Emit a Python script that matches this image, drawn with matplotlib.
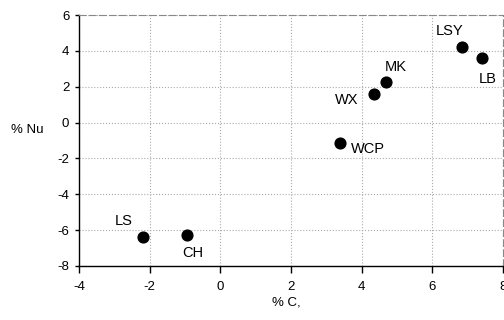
import matplotlib
matplotlib.use("Agg")
import matplotlib.pyplot as plt

labels = ["LSY", "LB", "MK", "WX", "WCP", "LS", "CH"]
x_vals = [6.83, 7.41, 4.70, 4.34, 3.38, -2.19, -0.93]
y_vals = [4.22, 3.62, 2.27, 1.61, -1.15, -6.37, -6.26]
# label offsets in pixels (dx, dy) relative to the point
offsets = [(-12, 16), (6, -21), (9, 15), (-27, -6), (28, -6), (-19, 16), (5, -18)]
x_ticks = [-4, -2, 0, 2, 4, 6, 8]
y_ticks = [-8, -6, -4, -2, 0, 2, 4, 6]

plt.rcParams['font.family'] = ['Liberation Sans', 'DejaVu Sans']
plt.rcParams['axes.unicode_minus'] = False

fig = plt.figure(figsize=(5.04, 3.2), dpi=100)
ax = fig.add_axes([79/504, 1-266/320, 424/504, 251/320])

ax.scatter(x_vals, y_vals, s=60, color='black', zorder=3)
for lab, x, y, (dx, dy) in zip(labels, x_vals, y_vals, offsets):
    ax.annotate(lab, (x, y), xytext=(dx, dy), textcoords='offset pixels',
                ha='center', va='center', fontsize=10.5, color='black')

ax.set_xlim(-4, 8)
ax.set_ylim(-8, 6)
ax.set_xticks(x_ticks)
ax.set_yticks(y_ticks)
ax.tick_params(axis='x', direction='out', length=5, width=1, labelsize=9.5, pad=6)
ax.tick_params(axis='y', direction='out', length=3, width=1, labelsize=9.5, pad=4)
ax.grid(True, linestyle=':', color='#aaaaaa', linewidth=0.8)
ax.set_axisbelow(True)

for side in ['left', 'bottom']:
    ax.spines[side].set_color('black')
    ax.spines[side].set_linewidth(1.0)
for side in ['top', 'right']:
    ax.spines[side].set_color('#888888')
    ax.spines[side].set_linewidth(0.8)
    ax.spines[side].set_linestyle((0, (6, 3)))

ax.set_ylabel('% Nu', rotation=0, fontsize=9.5, ha='center', va='center')
ax.yaxis.set_label_coords(-0.123, 0.542)
ax.set_xlabel('% C,', fontsize=9.5, ha='center', va='center')
ax.xaxis.set_label_coords(0.49, -0.147)

fig.savefig('out.png', dpi=100)
